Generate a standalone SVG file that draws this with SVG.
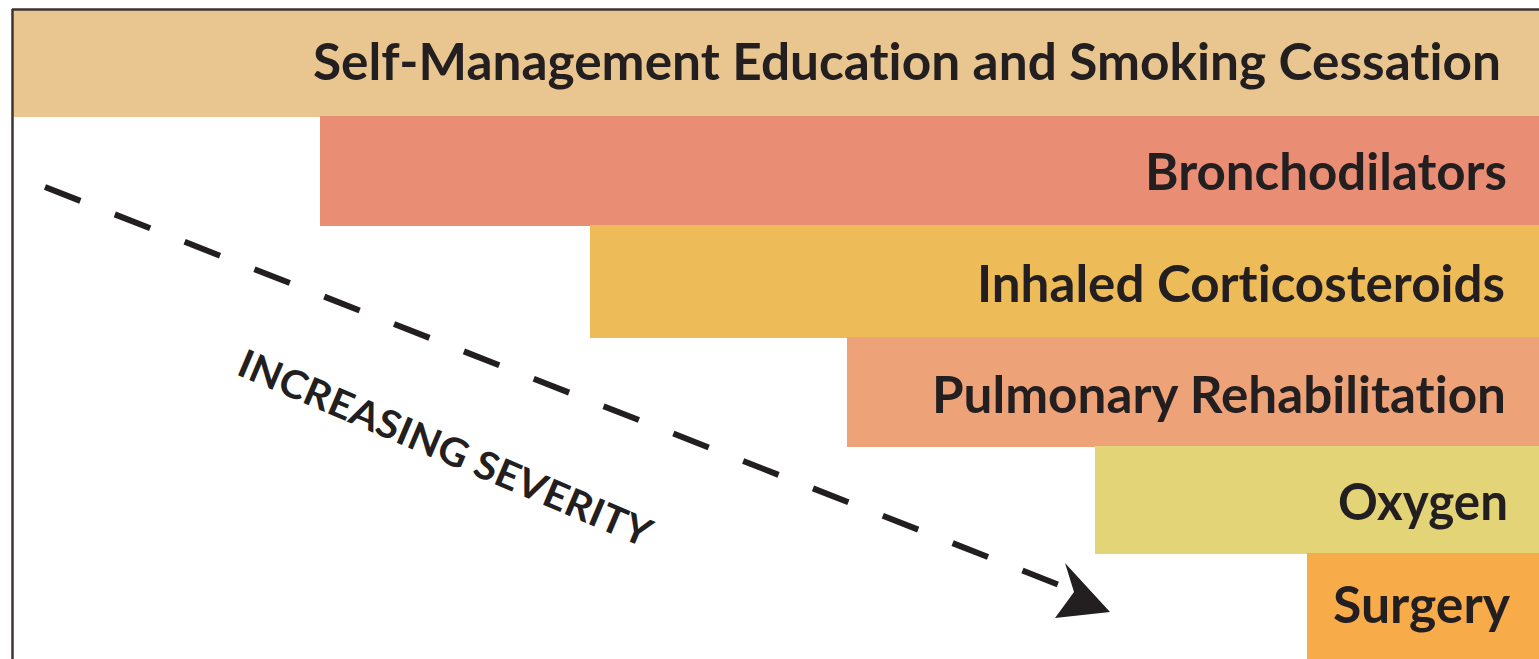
<svg xmlns="http://www.w3.org/2000/svg" width="1539" height="659" viewBox="0 0 1539 659">
  <style>
    .lbl { font-family: Lato, "Open Sans", "Liberation Sans", sans-serif; font-weight: 700; font-size: 51px; fill: #231f20; text-anchor: end; font-variant-ligatures: none; font-feature-settings: "liga" 0, "dlig" 0; }
    .sev { font-family: Lato, "Open Sans", "Liberation Sans", sans-serif; font-weight: 700; font-size: 39px; fill: #231f20; font-variant-ligatures: none; }
    .frame { stroke: #3a3533; stroke-width: 2.5; fill: none; }
  </style>
  <rect x="0" y="0" width="1539" height="659" fill="#ffffff"/>
  <g id="self-management">
    <rect x="12" y="10" width="1527" height="107" fill="#e9c690"/>
    <text class="lbl" x="1501" y="80" textLength="1188" lengthAdjust="spacingAndGlyphs">Self-Management Education and Smoking Cessation</text>
  </g>
  <g id="bronchodilators">
    <rect x="320" y="116" width="1219" height="110" fill="#e98d75"/>
    <text class="lbl" x="1507" y="190" textLength="362" lengthAdjust="spacingAndGlyphs">Bronchodilators</text>
  </g>
  <g id="inhaled-corticosteroids">
    <rect x="590" y="225" width="949" height="113" fill="#edbb58"/>
    <text class="lbl" x="1505" y="302" textLength="528" lengthAdjust="spacingAndGlyphs">Inhaled Corticosteroids</text>
  </g>
  <g id="pulmonary-rehabilitation">
    <rect x="847" y="337" width="692" height="110" fill="#eea277"/>
    <text class="lbl" x="1506" y="413" textLength="574" lengthAdjust="spacingAndGlyphs">Pulmonary Rehabilitation</text>
  </g>
  <g id="oxygen">
    <rect x="1095" y="446" width="444" height="108" fill="#e3d478"/>
    <text class="lbl" x="1508" y="520" textLength="170" lengthAdjust="spacingAndGlyphs">Oxygen</text>
  </g>
  <g id="surgery">
    <rect x="1307" y="553" width="232" height="106" fill="#f8ab49"/>
    <text class="lbl" x="1510" y="623" textLength="177" lengthAdjust="spacingAndGlyphs">Surgery</text>
  </g>
  <g id="frame">
    <line class="frame" x1="12" y1="9.5" x2="1539" y2="9.5"/>
    <line class="frame" x1="12.5" y1="9" x2="12.5" y2="659"/>
  </g>
  <g id="connectors">
    <line x1="45" y1="187" x2="1072" y2="590" stroke="#231f20" stroke-width="6" stroke-dasharray="38 37"/>
    <polygon points="1065,563 1110,612 1055,618 1074,592" fill="#231f20"/>
  </g>
  <g id="severity-label">
    <text class="sev" transform="translate(235,374) rotate(23)" x="0" y="0" textLength="445" lengthAdjust="spacingAndGlyphs">INCREASING SEVERITY</text>
  </g>
</svg>
